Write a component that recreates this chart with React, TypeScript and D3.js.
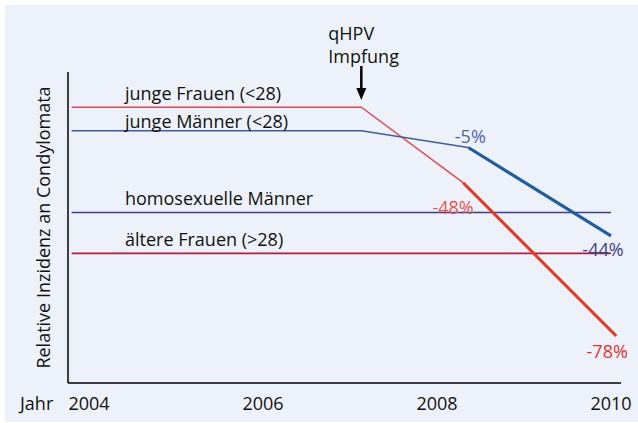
import React from 'react';
import * as d3 from 'd3';

// years on the x axis
const tickYears = [2004, 2006, 2008, 2010];
const vaccineYear = 2007.13;

// relative incidence (schematic index, 0..100 on the axis)
const youngWomenYears = [2003.8, 2007.13, 2008.3, 2010.06];
const youngWomenValues = [88.7, 88.7, 64.4, 15.1];
const youngMenYears = [2003.8, 2007.13, 2008.36, 2010.0];
const youngMenValues = [81.1, 81.1, 75.7, 47.3];
const gayMenYears = [2003.8, 2010.0];
const gayMenValues = [54.8, 54.8];
const olderWomenYears = [2003.8, 2010.0];
const olderWomenValues = [41.7, 41.7];

const changeLabels = ['-5%', '-48%', '-44%', '-78%'];

const FONT = "'Open Sans', 'Noto Sans', sans-serif";
const FS = 18;

const App = () => {
  const x = d3.scaleLinear().domain([2004, 2010]).range([89, 611]);
  const y = d3.scaleLinear().domain([0, 100]).range([383, 72]);

  const line = d3
    .line<[number, number]>()
    .x((d) => x(d[0]))
    .y((d) => y(d[1]));

  const pts = (ys: number[], vs: number[]) => ys.map((v, i) => [v, vs[i]] as [number, number]);

  const yw = pts(youngWomenYears, youngWomenValues);
  const ym = pts(youngMenYears, youngMenValues);
  const gm = pts(gayMenYears, gayMenValues);
  const ow = pts(olderWomenYears, olderWomenValues);

  const xAxisStart = x.invert(68);
  const xAxisEnd = x.invert(621);

  return (
    <svg
      width={638}
      height={423}
      style={{ position: 'absolute', left: 0, top: 0, display: 'block' }}
      fontFamily={FONT}
    >
      <rect x={0} y={0} width={638} height={423} fill="#ffffff" />
      <rect x={5} y={5} width={633} height={417} fill="#edf1f9" />

      {/* axes */}
      <line x1={x(xAxisStart)} x2={x(xAxisStart)} y1={y(100)} y2={y(0)} stroke="#000" strokeWidth={1.5} />
      <line x1={x(xAxisStart)} x2={x(xAxisEnd)} y1={y(0)} y2={y(0)} stroke="#000" strokeWidth={1.5} />

      {tickYears.map((t) => (
        <text key={t} x={x(t)} y={410} textAnchor="middle" fontSize={FS} fill="#111">
          {t}
        </text>
      ))}
      <text x={20} y={410} fontSize={FS} fill="#111">Jahr</text>

      <text
        transform={`translate(50, ${y(50)}) rotate(-90)`}
        textAnchor="middle"
        fontSize={FS}
        fill="#111"
      >
        Relative Inzidenz an Condylomata
      </text>

      {/* flat / thin lines */}
      <path d={line(gm) || ''} fill="none" stroke="#3a3c94" strokeWidth={1.5} />
      <path d={line(ow) || ''} fill="none" stroke="#b7193f" strokeWidth={1.8} />
      <path d={line(yw.slice(0, 3)) || ''} fill="none" stroke="#e9494f" strokeWidth={1.5} />
      <path d={line(ym.slice(0, 3)) || ''} fill="none" stroke="#3d5ba9" strokeWidth={1.5} />
      {/* thick trend after 2008 */}
      <path d={line(ym.slice(2)) || ''} fill="none" stroke="#1e5ba8" strokeWidth={3} />
      <path d={line(yw.slice(2)) || ''} fill="none" stroke="#e8361e" strokeWidth={3} />

      {/* series labels */}
      <text x={125} y={y(youngWomenValues[0]) - 7} fontSize={FS} fill="#111">junge Frauen (&lt;28)</text>
      <text x={125} y={y(youngMenValues[0]) - 3} fontSize={FS} fill="#111">junge Männer (&lt;28)</text>
      <text x={125} y={y(gayMenValues[0]) - 8} fontSize={FS} fill="#111">homosexuelle Männer</text>
      <text x={125} y={y(olderWomenValues[0]) - 7} fontSize={FS} fill="#111">ältere Frauen (&gt;28)</text>

      {/* change labels */}
      <text x={x(youngMenYears[2]) + 2} y={y(youngMenValues[2]) - 5} textAnchor="middle" fontSize={FS} fill="#4a64b0">
        {changeLabels[0]}
      </text>
      <text x={x(youngWomenYears[2]) - 10} y={y(youngWomenValues[2]) + 31} textAnchor="middle" fontSize={FS} fill="#f0514c">
        {changeLabels[1]}
      </text>
      <text x={x(youngMenYears[3]) - 8} y={y(youngMenValues[3]) + 20} textAnchor="middle" fontSize={FS} fill="#3c3f8e">
        {changeLabels[2]}
      </text>
      <text x={x(youngWomenYears[3]) - 9} y={y(youngWomenValues[3]) + 22} textAnchor="middle" fontSize={FS} fill="#e8312e">
        {changeLabels[3]}
      </text>

      {/* vaccination annotation */}
      <text x={x(vaccineYear) - 33} y={40} fontSize={FS} fill="#111">qHPV</text>
      <text x={x(vaccineYear) - 33} y={63} fontSize={FS} fill="#111">Impfung</text>
      <line x1={x(vaccineYear)} x2={x(vaccineYear)} y1={66} y2={90} stroke="#000" strokeWidth={2.5} />
      <path
        d={`M${x(vaccineYear) - 5},88 L${x(vaccineYear) + 5},88 L${x(vaccineYear)},100 Z`}
        fill="#000"
      />
    </svg>
  );
};

export default App;
